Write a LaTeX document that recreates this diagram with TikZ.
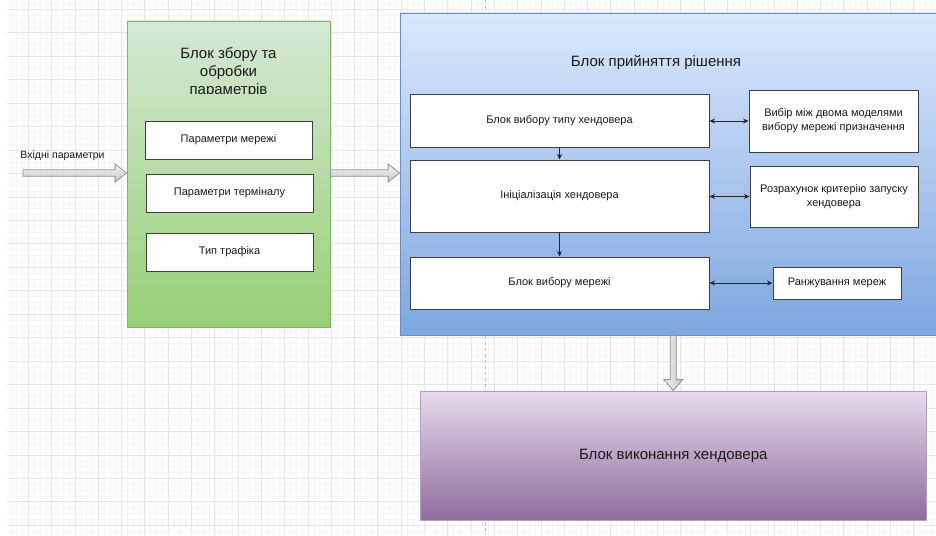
\documentclass[tikz,border=0pt]{standalone}
\usepackage{fontspec}
\setmainfont{Liberation Sans}
\usetikzlibrary{arrows.meta,calc}

\definecolor{gridmajor}{HTML}{E6E6E6}
\definecolor{gridminor}{HTML}{F6F6F6}
\definecolor{greentop}{HTML}{D5E8D4}
\definecolor{greenbot}{HTML}{97D077}
\definecolor{greenline}{HTML}{82B366}
\definecolor{bluetop}{HTML}{DAE8FC}
\definecolor{bluebot}{HTML}{7EA6E0}
\definecolor{blueline}{HTML}{6C8EBF}
\definecolor{purptop}{HTML}{E6DAEC}
\definecolor{purpbot}{HTML}{8F6D9E}
\definecolor{purpline}{HTML}{B59CC2}
\definecolor{txt}{HTML}{1A1A1A}

\tikzset{
  panel/.style={rectangle, inner sep=0pt, line width=0.8pt},
  whitebox/.style={rectangle, draw=black!75, line width=1pt, fill=white, inner sep=2pt,
    align=center, font=\fontsize{11}{14}\selectfont, text=txt},
  title/.style={font=\fontsize{15}{18}\selectfont, text=txt, align=center},
  link/.style={line width=0.9pt, draw=black!85},
  tipto/.style={-{Stealth[length=5.5pt,width=5pt]}},
  tipboth/.style={{Stealth[length=5.5pt,width=5pt]}-{Stealth[length=5.5pt,width=5pt]}},
  fatarrowh/.style={draw=gray!85, line width=0.8pt, top color=gray!8, bottom color=gray!45},
  fatarrowv/.style={draw=gray!85, line width=0.8pt, left color=gray!10, right color=gray!45},
  gridthin/.style={draw=gridminor, line width=0.4pt},
  gridthick/.style={draw=gridmajor, line width=0.7pt},
  pagebreak/.style={draw=gray!55, line width=0.7pt, dash pattern=on 3pt off 3pt},
}

% wide block arrow pointing right, from #1 to #2
\newcommand\fatright[2]{%
  \path[fatarrowh] ($(#1)+(0,-3.3)$) -- ($(#2)+(-11.5,-3.3)$) -- ($(#2)+(-11.5,-9)$)
    -- (#2) -- ($(#2)+(-11.5,9)$) -- ($(#2)+(-11.5,3.3)$) -- ($(#1)+(0,3.3)$) -- cycle;}
% wide block arrow pointing down, from #1 to #2
\newcommand\fatdown[2]{%
  \path[fatarrowv] ($(#1)+(-3,0)$) -- ($(#2)+(-3,-11)$) -- ($(#2)+(-9.5,-11)$)
    -- (#2) -- ($(#2)+(9.5,-11)$) -- ($(#2)+(3,-11)$) -- ($(#1)+(3,0)$) -- cycle;}

\begin{document}
\begin{tikzpicture}[x=1pt,y=-1pt]
\useasboundingbox (0,0) rectangle (936,535);
\clip (0,0) rectangle (936,535);
\fill[white] (0,0) rectangle (936,535);

% background grid
\begin{scope}
  \clip (7,0) rectangle (936,535);
  \foreach \k in {-4,...,156} \draw[gridthin] ({28.3+\k*5.825},0) -- ++(0,535);
  \foreach \k in {-2,...,91} \draw[gridthin] (0,{9.3+\k*5.8625}) -- ++(936,0);
  \foreach \k in {-1,...,39} \draw[gridthick] ({28.3+\k*23.3},0) -- ++(0,535);
  \foreach \k in {0,...,22} \draw[gridthick] (0,{9.3+\k*23.45}) -- ++(936,0);
\end{scope}
\draw[pagebreak] (485,0) -- (485,535);

% parameter collection block
\node[panel, draw=greenline, top color=greentop, bottom color=greenbot,
      minimum width=203pt, minimum height=306pt] (collect) at (228.5,174) {};
\begin{scope}
  \clip (127,21) rectangle (330,93);
  \node[title] (collecttitle) at (228.5,72.5) {Блок збору та\\обробки\\параметрів};
\end{scope}
\node[whitebox, minimum width=167pt, minimum height=38pt] (netpar) at (228.5,140) {Параметри мережі};
\node[whitebox, minimum width=167pt, minimum height=38pt] (termpar) at (229.5,193) {Параметри терміналу};
\node[whitebox, minimum width=167pt, minimum height=38pt] (traffic) at (229.5,252) {Тип трафіка};

% decision block
\node[panel, draw=blueline, top color=bluetop, bottom color=bluebot,
      minimum width=540pt, minimum height=322pt] (decide) at (670,174) {};
\node[title] (decidetitle) at (656,62) {Блок прийняття рішення};
\node[whitebox, minimum width=299pt, minimum height=53pt] (hotype) at (559.5,120.5) {Блок вибору типу хендовера};
\node[whitebox, minimum width=169pt, minimum height=62pt] (models) at (833.5,121) {Вибір між двома моделями\\вибору мережі призначення};
\node[whitebox, minimum width=299pt, minimum height=72pt] (hoinit) at (559.5,196) {Ініціалізація хендовера};
\node[whitebox, minimum width=168pt, minimum height=61pt] (criterion) at (834,196.5) {Розрахунок критерію запуску\\хендовера};
\node[whitebox, minimum width=299pt, minimum height=52pt] (netsel) at (559.5,283) {Блок вибору мережі};
\node[whitebox, minimum width=128pt, minimum height=32pt] (ranking) at (837,283) {Ранжування мереж};

% execution block
\node[panel, draw=purpline, top color=purptop, bottom color=purpbot,
      minimum width=506.5pt, minimum height=129pt, title] (execute) at (673.25,455.5) {Блок виконання хендовера};

% input
\node[font=\fontsize{10.5}{12}\selectfont, text=txt] (inlabel) at (62.5,156) {Вхідні параметри};
\coordinate (inp) at (23,173);

% wide arrows between blocks
\coordinate (a1) at (collect.west |- inp);
\coordinate (b0) at (collect.east |- inp);
\coordinate (b1) at (decide.west |- inp);
\coordinate (c0) at (execute.north |- decide.south);
\fatright{inp}{a1}
\fatright{b0}{b1}
\fatdown{c0}{execute.north}

% connectors inside the decision block
\draw[link, tipboth] (hotype.east |- models.west) -- (models.west);
\draw[link, tipboth] (hoinit.east |- criterion.west) -- (criterion.west);
\draw[link, tipboth] (netsel.east) -- (ranking.west);
\draw[link, tipto] (hotype.south) -- (hoinit.north);
\draw[link, tipto] (hoinit.south) -- (netsel.north);
\end{tikzpicture}
\end{document}
